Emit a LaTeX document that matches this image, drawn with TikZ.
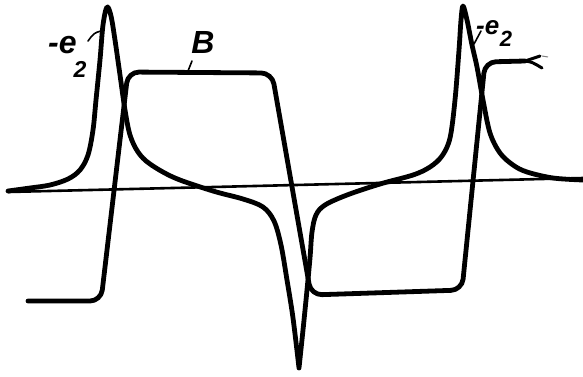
\documentclass[tikz,border=0pt]{standalone}
\usepackage{fontspec}
\setmainfont{Liberation Sans}
\begin{document}
\begin{tikzpicture}[x=1pt,y=-1pt,
  curve/.style={line width=4.8pt,line cap=round,line join=round},
  axisline/.style={line width=2.6pt,line cap=round},
  leader/.style={line width=1.6pt,line cap=round},
  lab/.style={inner sep=0pt,font=\bfseries\itshape}]
\useasboundingbox (0,0) rectangle (583,376);
% axis
\coordinate (ax0) at (8,192);
\coordinate (ax1) at (583,178);
\draw[axisline] (ax0) -- (ax1);
% e2 curve
\draw[curve] plot[smooth,tension=0.55] coordinates {(8,191) (30,188) (50,185) (68,179) (80,170) (88,155) (93,130) (96,100) (100,60) (103,25) (107,7) (111,16) (115,40) (120,75) (125,110) (130,135) (138,152) (150,164) (175,178) (213,191) (243,199) (263,207) (274,221) (281,245) (287,280) (293,318) (299,368)}
  -- plot[smooth,tension=0.55] coordinates {(299,368) (303,330) (307,290) (310,258) (312,232) (316,215) (325,205) (347,195) (380,184) (413,175) (430,167) (442,156) (450,138) (455,100) (459,50) (461,20) (463,6) (467,20) (472,45) (477,67) (483,100) (490,133) (500,153) (513,165) (527,172) (553,178) (583,180)};
% B curve
\draw[curve,rounded corners=11pt] (28,301) -- (101,301) -- (128,72) -- (272,73) -- (311,295) -- (462,290) -- (485,62) -- (525,61);
\coordinate (f0) at (525,61);
\coordinate (f1) at (540,56);
\coordinate (f2) at (542,68);
\draw[line width=3pt,line cap=round] (f0) -- (f1);
\draw[line width=3pt,line cap=round] (f0) .. controls (532,62) .. (f2);
\coordinate (f3) at (548,57);
\coordinate (f4) at (542,56);
\draw[line width=1pt,gray] (f4) -- (f3);
% labels
\node[lab,anchor=base west] (le) at (48,53) {\fontsize{32}{32}\selectfont -e\kern-3pt\raisebox{-24pt}{\fontsize{23}{23}\selectfont 2}};
\node[lab,anchor=base west] (re) at (476,34) {\fontsize{26}{26}\selectfont -e\kern0.5pt\raisebox{-12pt}{\fontsize{22}{22}\selectfont 2}};
\node[lab,anchor=base] (lb) at (203,53) {\fontsize{32}{32}\selectfont B};
% leaders
\coordinate (l1a) at (88,41);
\coordinate (l1b) at (101,31);
\draw[leader] (l1a) .. controls (94,33) .. (l1b);
\coordinate (l2a) at (481,31);
\coordinate (l2b) at (474,44);
\draw[leader] (l2a) -- (l2b);
\coordinate (l3a) at (192,61);
\coordinate (l3b) at (188,71);
\draw[leader] (l3a) -- (l3b);
\end{tikzpicture}
\end{document}
